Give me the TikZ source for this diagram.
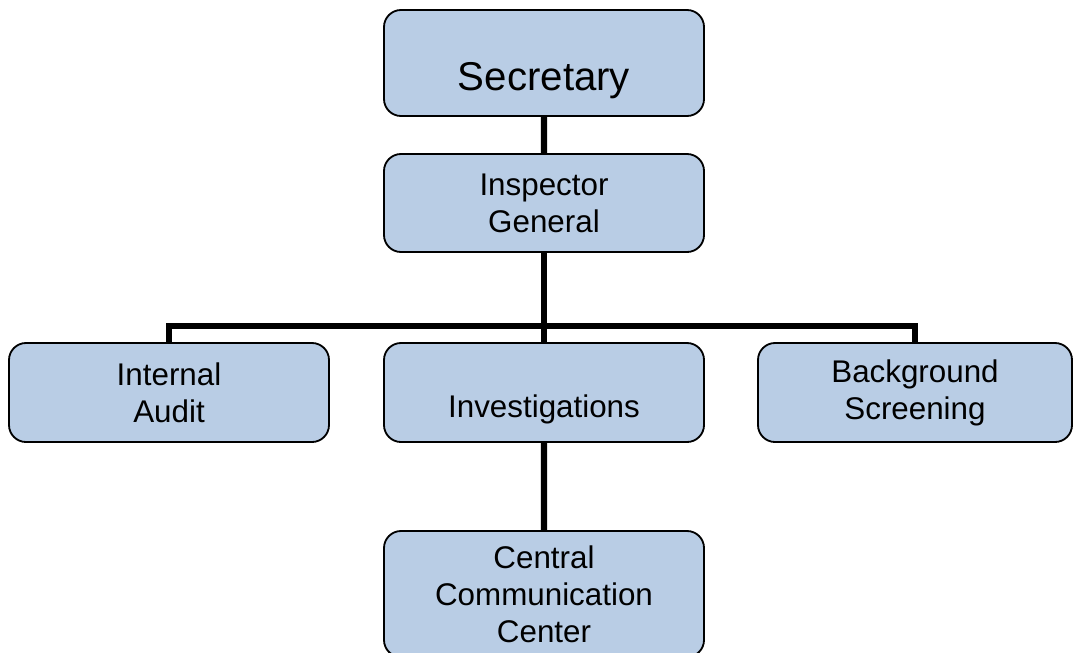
\documentclass[tikz,border=0pt]{standalone}
\usepackage{fontspec}
\setmainfont{Liberation Sans}
\usetikzlibrary{positioning}
\definecolor{boxblue}{RGB}{185,205,229}

\begin{document}
\begin{tikzpicture}[
	unit/.style={draw=black, fill=boxblue, line width=1.3pt, rounded corners=0.425cm, minimum width=8cm, align=center, font=\fontsize{22.3}{26.3}\selectfont},
	edge from parent/.style={draw, line width=4.3pt},
	level 1/.style={level distance=3.45cm},
	level 2/.style={level distance=4.7375cm, sibling distance=9.375cm, edge from parent path={(\tikzparentnode.south) -- ++(0,-1.825cm) -| (\tikzchildnode.north)}},
	level 3/.style={level distance=5.0375cm, edge from parent path={(\tikzparentnode.south) -- (\tikzchildnode.north)}}]
\useasboundingbox (0,0) rectangle (26.825,-16.3);
\clip (0,0) rectangle (26.825,-16.3);
\node[unit, minimum height=2.65cm, label={[font=\fontsize{28.6}{34}\selectfont, yshift=-0.43cm]center:Secretary}] (sec) at (13.6,-1.575) {}
child {
	node[unit, minimum height=2.45cm, yshift=-0.05cm] (ig) {Inspector\\General}
	child {
		node[unit, minimum height=2.475cm] (audit) {Internal\\Audit}
	}
	child {
		node[unit, minimum height=2.475cm, label={[font=\fontsize{22.3}{26.3}\selectfont, yshift=-0.43cm]center:Investigations}] (inv) {}
		child {
			node[unit, minimum height=3.15cm] (ccc) {Central\\Communication\\Center}
		}
	}
	child {
		node[unit, minimum height=2.475cm, minimum width=7.85cm, xshift=-0.1cm] (bg) {Background\\Screening}
	}
};
\end{tikzpicture}
\end{document}
